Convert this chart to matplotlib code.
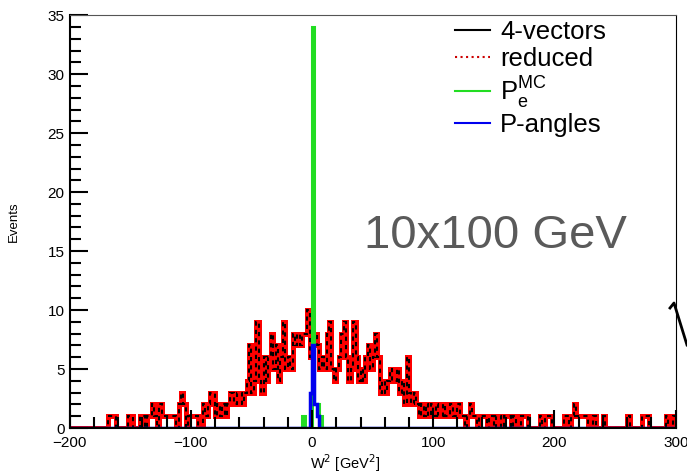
import numpy as np
import matplotlib.pyplot as plt
from matplotlib.lines import Line2D
from matplotlib.ticker import MultipleLocator

plt.rcParams['font.family'] = ['Liberation Sans', 'DejaVu Sans']

# W^2 histogram, 250 bins of 2 GeV^2 from -200 to 300
edges = np.arange(-200, 302, 2)
counts_4vec = [
    0, 0, 0, 0, 0, 0, 0, 0, 0, 0,   # -200..-180
    0, 0, 0, 0, 0, 0, 1, 1, 1, 0,   # -180..-160
    0, 0, 0, 0, 1, 1, 0, 0, 0, 1,   # -160..-140
    1, 0, 1, 1, 2, 1, 0, 2, 1, 1,   # -140..-120
    1, 1, 1, 1, 0, 2, 3, 2, 0, 1,   # -120..-100
    1, 1, 1, 0, 0, 2, 1, 2, 3, 3,   # -100..-80
    1, 2, 1, 2, 1, 2, 3, 3, 2, 3,   # -80..-60
    3, 2, 3, 4, 7, 3, 4, 9, 4, 3,   # -60..-40
    6, 4, 6, 8, 5, 7, 4, 6, 9, 5,   # -40..-20
    6, 5, 8, 7, 8, 7, 8, 8, 10, 6,  # -20..0
    7, 8, 7, 5, 6, 5, 8, 9, 5, 4,   # 0..20
    5, 6, 8, 9, 6, 4, 5, 9, 6, 4,   # 20..40
    5, 4, 6, 7, 5, 6, 8, 6, 3, 4,   # 40..60
    3, 4, 5, 4, 4, 5, 3, 4, 2, 6,   # 60..80
    3, 2, 3, 2, 1, 2, 1, 2, 1, 2,   # 80..100
    1, 2, 1, 1, 2, 1, 1, 2, 1, 1,   # 100..120
    2, 1, 1, 0, 1, 2, 1, 1, 0, 1,   # 120..140
    1, 1, 0, 1, 1, 0, 1, 1, 0, 1,   # 140..160
    1, 1, 0, 1, 0, 0, 1, 1, 1, 0,   # 160..180
    0, 0, 0, 0, 1, 0, 1, 1, 1, 0,   # 180..200
    0, 0, 0, 0, 1, 1, 0, 1, 2, 1,   # 200..220
    1, 1, 1, 1, 0, 0, 1, 0, 0, 0,   # 220..240
    1, 0, 0, 0, 0, 0, 0, 0, 0, 0,   # 240..260
    1, 0, 0, 0, 0, 0, 1, 1, 1, 0,   # 260..280
    0, 0, 0, 0, 0, 0, 1, 0, 0, 1,   # 280..300
]
counts_reduced = list(counts_4vec)

# narrow peaks near zero: (bin centre, count)
pe_mc_x = [-7, 1, 3, 5, 7]
pe_mc_n = [1, 34, 2, 2, 1]
pang_x = [-1, 1, 3, 5]
pang_n = [3, 7, 2, 1]

pe_mc = np.histogram(pe_mc_x, bins=edges, weights=pe_mc_n)[0]
pang = np.histogram(pang_x, bins=edges, weights=pang_n)[0]

fig = plt.figure(figsize=(6.87, 4.74), dpi=100)
ax = fig.add_axes([0.1012, 0.097, 0.8824, 0.871])

ax.stairs(counts_reduced, edges, color='#ff0000', linewidth=3.6)
ax.stairs(counts_4vec, edges, color='black', linewidth=1.5, linestyle=(0, (2, 2)))
ax.stairs(pe_mc, edges, color='#22dd22', linewidth=2.2)
ax.stairs(pang, edges, color='#0000ee', linewidth=2.5)

ax.set_xlim(-200, 300)
ax.set_ylim(0, 35)
ax.xaxis.set_major_locator(MultipleLocator(100))
ax.xaxis.set_minor_locator(MultipleLocator(20))
ax.yaxis.set_major_locator(MultipleLocator(5))
ax.yaxis.set_minor_locator(MultipleLocator(1))
ax.tick_params(which='both', direction='in', top=False, right=False, labelsize=11)
ax.tick_params(which='major', length=13, width=1.5)
ax.tick_params(which='minor', length=8, width=1.5)
ax.tick_params(axis='x', pad=6)
for s in ['left', 'bottom']:
    ax.spines[s].set_linewidth(1.5)
ax.spines['top'].set_color('#555555')
ax.spines['right'].set_linewidth(0.8)

ax.set_ylabel('Events', fontsize=9.5, labelpad=20)
ax.set_xlabel('W$^2$ [GeV$^2$]', fontsize=10.5, labelpad=2)
ax.xaxis.set_label_coords(0.455, -0.06)

handles = [
    Line2D([], [], color='black', linewidth=1.5),
    Line2D([], [], color='#cc0000', linewidth=1.5, linestyle=':'),
    Line2D([], [], color='#22dd22', linewidth=1.5),
    Line2D([], [], color='#0000ee', linewidth=1.5),
]
labels = ['4-vectors', 'reduced', 'P$_\\mathregular{e}^\\mathregular{MC}$', 'P-angles']
ax.legend(handles, labels, loc='upper left', bbox_to_anchor=(0.61, 1.025),
          frameon=False, fontsize=18.5, handlelength=1.36, handletextpad=0.4,
          labelspacing=0.12, borderaxespad=0.2)

ax.text(0.486, 0.437, '10x100 GeV', transform=ax.transAxes, fontsize=34, color='#5a5a5a')

# partially cropped glyph at the right edge
fig.add_artist(Line2D([670 / 687, 674 / 687, 687 / 687], [1 - 308 / 474, 1 - 303 / 474, 1 - 345 / 474],
                      color='black', linewidth=2))

fig.savefig('out.png', dpi=100)
